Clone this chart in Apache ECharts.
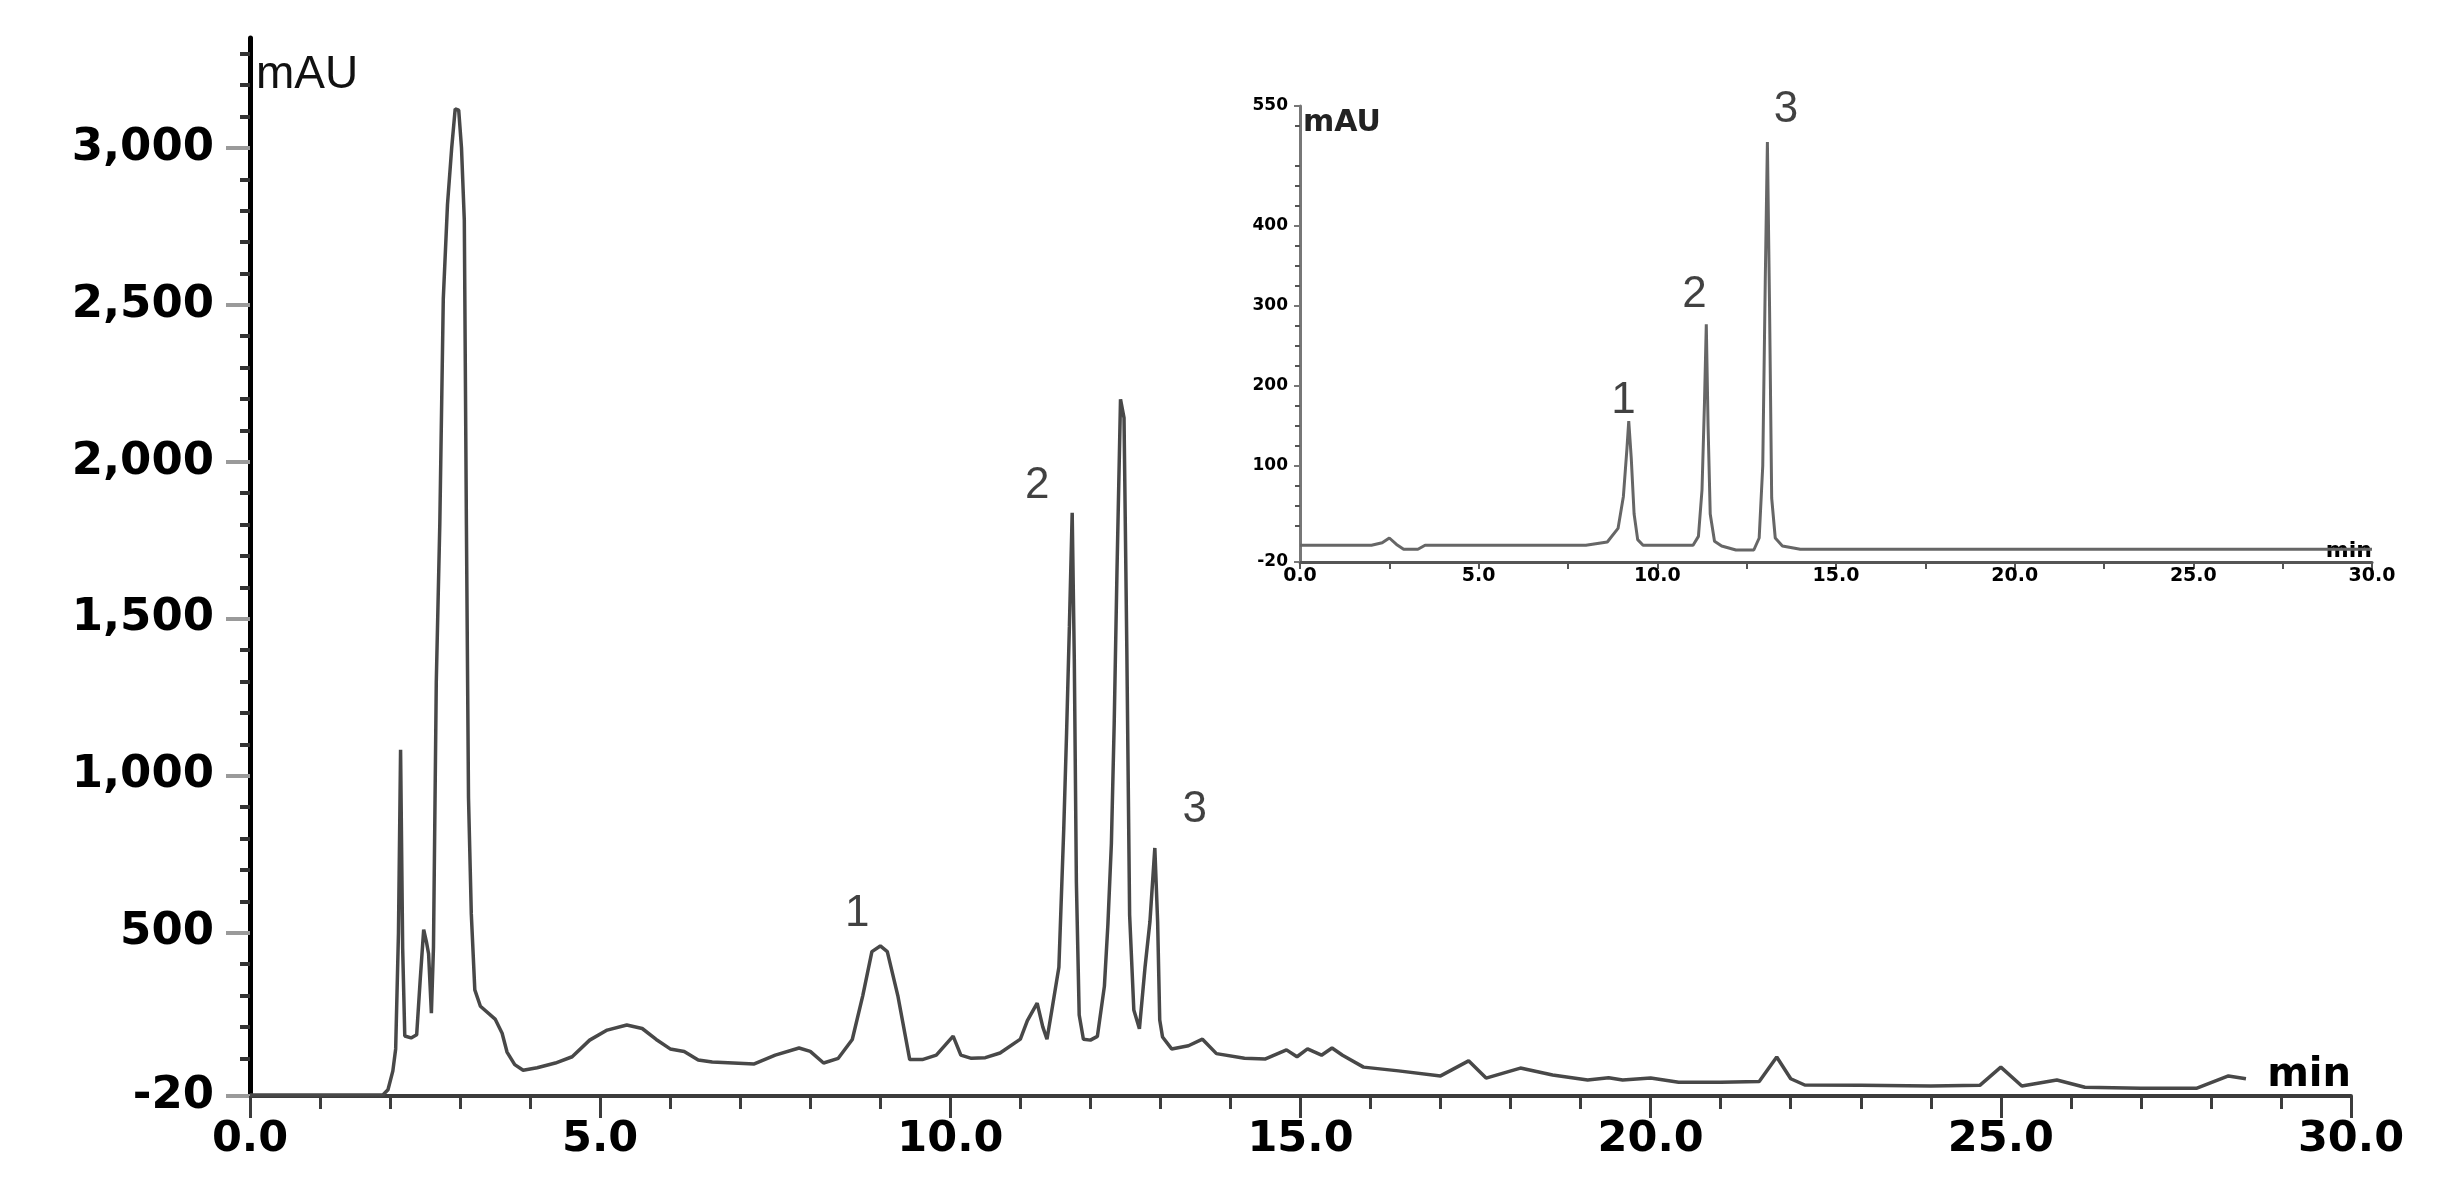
<!DOCTYPE html>
<html><head><meta charset="utf-8">
<script src="https://cdn.jsdelivr.net/npm/echarts@6/dist/echarts.min.js"></script>
<style>html,body{margin:0;padding:0;background:#fff}#chart{width:2443px;height:1200px}</style>
</head><body><div id="chart"></div>
<script>
// Main chromatogram (retention time in min, absorbance in mAU)
const mainTime = [0, 1.0, 1.9, 1.97, 2.04, 2.08, 2.12, 2.15, 2.18, 2.21, 2.3, 2.38, 2.43, 2.48, 2.52, 2.55, 2.59, 2.62, 2.66, 2.71, 2.76, 2.82, 2.88, 2.93, 2.98, 3.02, 3.06, 3.09, 3.12, 3.16, 3.21, 3.29, 3.5, 3.6, 3.67, 3.78, 3.9, 4.1, 4.36, 4.6, 4.85, 5.1, 5.38, 5.6, 5.8, 6.0, 6.2, 6.4, 6.6, 6.9, 7.2, 7.5, 7.84, 8.0, 8.19, 8.4, 8.6, 8.75, 8.88, 9.0, 9.1, 9.25, 9.42, 9.6, 9.8, 10.04, 10.15, 10.3, 10.5, 10.71, 11.0, 11.1, 11.24, 11.32, 11.38, 11.45, 11.55, 11.62, 11.66, 11.7, 11.74, 11.77, 11.8, 11.84, 11.9, 12.0, 12.1, 12.2, 12.25, 12.3, 12.34, 12.38, 12.43, 12.48, 12.52, 12.56, 12.62, 12.7, 12.78, 12.85, 12.92, 12.96, 12.99, 13.03, 13.16, 13.4, 13.6, 13.8, 14.2, 14.5, 14.8, 14.95, 15.1, 15.3, 15.45, 15.6, 15.9, 16.4, 17.0, 17.4, 17.65, 18.14, 18.6, 19.1, 19.4, 19.6, 20.0, 20.4, 21.0, 21.55, 21.8, 22.0, 22.2, 23.0, 24.0, 24.7, 25.0, 25.3, 25.8, 26.2, 27.0, 27.8, 28.25, 28.5];
const mainSignal = [-17, -17, -16, 0, 60, 130, 500, 1083, 450, 171, 165, 175, 349, 510, 470, 433, 244, 455, 1300, 1800, 2520, 2820, 3000, 3124, 3120, 3000, 2770, 1800, 930, 560, 318, 266, 225, 180, 120, 80, 62, 70, 85, 105, 158, 190, 206, 195, 160, 130, 122, 95, 88, 85, 82, 110, 133, 122, 85, 100, 160, 300, 440, 458, 440, 300, 96, 96, 110, 171, 110, 100, 102, 117, 161, 220, 276, 200, 161, 254, 390, 834, 1137, 1475, 1838, 1373, 659, 238, 161, 158, 170, 330, 527, 786, 1168, 1657, 2199, 2140, 1405, 557, 254, 194, 390, 535, 770, 535, 222, 168, 130, 140, 161, 115, 100, 98, 127, 105, 130, 110, 133, 110, 72, 60, 44, 92, 37, 69, 47, 31, 38, 31, 37, 24, 24, 26, 104, 35, 15, 14, 12, 14, 72, 12, 31, 8, 5, 5, 44, 35];

// Inset chromatogram (standards)
const insetTime = [0, 2.0, 2.3, 2.5, 2.7, 2.9, 3.3, 3.5, 8.0, 8.6, 8.9, 9.05, 9.15, 9.2, 9.27, 9.35, 9.45, 9.6, 11.0, 11.15, 11.25, 11.32, 11.37, 11.42, 11.48, 11.6, 11.8, 12.2, 12.7, 12.85, 12.95, 13.02, 13.08, 13.14, 13.2, 13.3, 13.5, 14.0, 30];
const insetSignal = [1, 1, 4, 10, 2, -4, -4, 1, 1, 5, 22, 62, 122, 156, 110, 40, 8, 1, 1, 12, 70, 180, 277, 150, 40, 6, 0, -5, -5, 10, 100, 330, 505, 300, 60, 10, 0, -4, -4];

// Axis tick labels
const mainYTickLabels = [-20, 500, 1000, 1500, 2000, 2500, 3000];
const insetYTickLabels = [-20, 100, 200, 300, 400, 550];

// Peak annotations
const peakNames = ['1', '2', '3'];
const mainPeakLabelTime = [8.67, 11.24, 13.49];
const mainPeakLabelValue = [560, 1922, 892];
const insetPeakLabelTime = [9.05, 11.04, 13.6];
const insetPeakLabelValue = [182, 314, 545];

const mainYMinor = [];
for (let v = 100; v <= 3300; v += 100) if (v % 500 !== 0) mainYMinor.push(v);
const insetYMinor = [];
for (let v = 25; v <= 525; v += 25) if (v % 100 !== 0) insetYMinor.push(v);

const boldFont = 'DejaVu Sans';
const chart = echarts.init(document.getElementById('chart'));
chart.setOption({
  animation: false,
  backgroundColor: '#fff',
  grid: [
    {left: 250, right: 92, top: 38, bottom: 104},
    {left: 1300, right: 71, top: 106, bottom: 638}
  ],
  xAxis: [
    {
      gridIndex: 0, type: 'value', min: 0, max: 30, interval: 5,
      name: 'min', nameLocation: 'end', nameGap: 0,
      nameTextStyle: {align: 'right', verticalAlign: 'bottom', fontFamily: boldFont, fontWeight: 'bold', fontSize: 40, color: '#000'},
      axisLine: {onZero: false, lineStyle: {color: '#3c3c3c', width: 4}},
      axisTick: {length: 22, lineStyle: {color: '#3c3c3c', width: 3}},
      minorTick: {show: true, splitNumber: 5, length: 13, lineStyle: {color: '#3c3c3c', width: 3}},
      axisLabel: {formatter: v => v.toFixed(1), fontFamily: boldFont, fontWeight: 'bold', fontSize: 43, color: '#000', margin: 22},
      splitLine: {show: false}
    },
    {
      gridIndex: 1, type: 'value', min: 0, max: 30, interval: 5,
      name: 'min', nameLocation: 'end', nameGap: 0,
      nameTextStyle: {align: 'right', verticalAlign: 'bottom', fontFamily: boldFont, fontWeight: 'bold', fontSize: 22, color: '#000'},
      axisLine: {onZero: false, lineStyle: {color: '#555', width: 3}},
      axisTick: {length: 7, lineStyle: {color: '#555', width: 2}},
      minorTick: {show: true, splitNumber: 2, length: 7, lineStyle: {color: '#555', width: 2}},
      axisLabel: {formatter: v => v.toFixed(1), fontFamily: boldFont, fontWeight: 'bold', fontSize: 19, color: '#000', margin: 5},
      splitLine: {show: false}
    }
  ],
  yAxis: [
    {
      gridIndex: 0, type: 'value', min: -20, max: 3350, position: 'left',
      name: 'mAU', nameLocation: 'end', nameGap: -14,
      nameTextStyle: {align: 'left', verticalAlign: 'top', fontFamily: 'Liberation Sans', fontSize: 46, color: '#111', padding: [0, 0, 0, 6]},
      axisLine: {show: true, onZero: false, lineStyle: {color: '#000', width: 5}},
      axisTick: {show: true, customValues: mainYTickLabels, length: 24, lineStyle: {color: '#9a9a9a', width: 4}},
      axisLabel: {customValues: mainYTickLabels, formatter: v => v.toLocaleString('en-US'), fontFamily: boldFont, fontWeight: 'bold', fontSize: 45, color: '#000', margin: 36},
      splitLine: {show: false}
    },
    {
      gridIndex: 0, type: 'value', min: -20, max: 3350, position: 'left',
      axisLine: {show: false},
      axisTick: {show: true, customValues: mainYMinor, length: 10, lineStyle: {color: '#333', width: 4}},
      axisLabel: {show: false},
      splitLine: {show: false}
    },
    {
      gridIndex: 1, type: 'value', min: -20, max: 550, position: 'left',
      name: 'mAU', nameLocation: 'end', nameGap: -2,
      nameTextStyle: {align: 'left', verticalAlign: 'top', fontFamily: boldFont, fontWeight: 'bold', fontSize: 30, color: '#222', padding: [0, 0, 0, 3]},
      axisLine: {show: true, onZero: false, lineStyle: {color: '#777', width: 3}},
      axisTick: {show: true, customValues: insetYTickLabels, length: 6, lineStyle: {color: '#777', width: 2}},
      axisLabel: {customValues: insetYTickLabels, fontFamily: boldFont, fontWeight: 'bold', fontSize: 17, color: '#000', margin: 12},
      splitLine: {show: false}
    },
    {
      gridIndex: 1, type: 'value', min: -20, max: 550, position: 'left',
      axisLine: {show: false},
      axisTick: {show: true, customValues: insetYMinor, length: 5, lineStyle: {color: '#555', width: 2}},
      axisLabel: {show: false},
      splitLine: {show: false}
    }
  ],
  series: [
    {
      type: 'line', xAxisIndex: 0, yAxisIndex: 0, showSymbol: false,
      data: mainTime.map((t, i) => [t, mainSignal[i]]),
      lineStyle: {color: '#484848', width: 3.5}
    },
    {
      type: 'line', xAxisIndex: 1, yAxisIndex: 2, showSymbol: false,
      data: insetTime.map((t, i) => [t, insetSignal[i]]),
      lineStyle: {color: '#666', width: 3}
    },
    {
      type: 'scatter', xAxisIndex: 0, yAxisIndex: 0, symbolSize: 1,
      itemStyle: {color: 'rgba(0,0,0,0)'},
      data: peakNames.map((n, i) => ({name: n, value: [mainPeakLabelTime[i], mainPeakLabelValue[i]]})),
      label: {show: true, position: 'inside', formatter: '{b}', fontFamily: 'Liberation Sans', fontSize: 44, color: '#111'}
    },
    {
      type: 'scatter', xAxisIndex: 1, yAxisIndex: 2, symbolSize: 1,
      itemStyle: {color: 'rgba(0,0,0,0)'},
      data: peakNames.map((n, i) => ({name: n, value: [insetPeakLabelTime[i], insetPeakLabelValue[i]]})),
      label: {show: true, position: 'inside', formatter: '{b}', fontFamily: 'Liberation Sans', fontSize: 44, color: '#111'}
    }
  ]
});
</script>
</body></html>
